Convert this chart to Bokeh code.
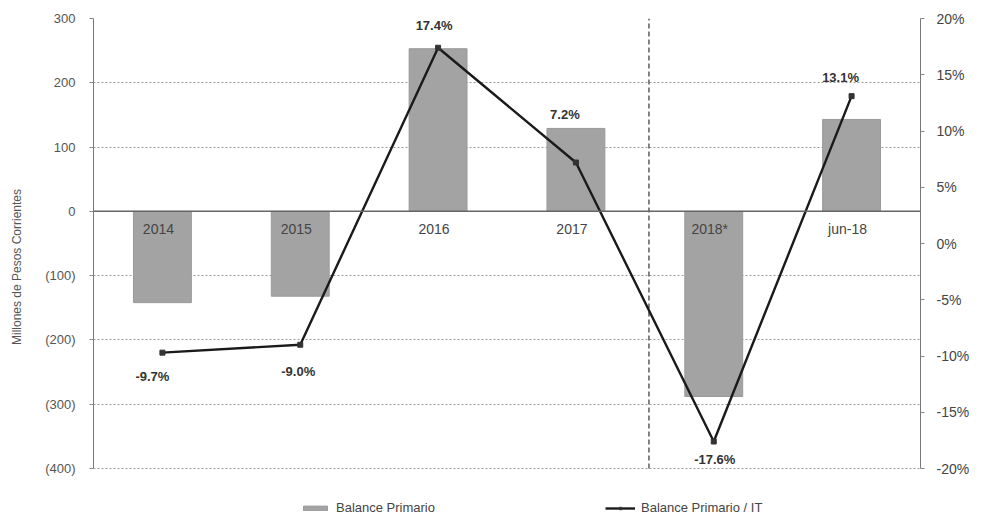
from bokeh.plotting import figure
from bokeh.models import (FactorRange, Range1d, LinearAxis, FixedTicker, Span,
                          ColumnDataSource, Legend, LegendItem, LabelSet)
from bokeh.core.properties import value
from bokeh.embed import file_html
from bokeh.resources import INLINE

categories = ["2014", "2015", "2016", "2017", "2018*", "jun-18"]
balance = [-142, -132, 253, 129, -288, 143]
ratio_pct = [-9.7, -9.0, 17.4, 7.2, -17.6, 13.1]
ratio_labels = ["-9.7%", "-9.0%", "17.4%", "7.2%", "-17.6%", "13.1%"]
left_ticks = [300, 200, 100, 0, -100, -200, -300, -400]
left_tick_labels = ["300", "200", "100", "0", "(100)", "(200)", "(300)", "(400)"]
right_ticks = [20, 15, 10, 5, 0, -5, -10, -15, -20]
right_tick_labels = ["20%", "15%", "10%", "5%", "0%", "-5%", "-10%", "-15%", "-20%"]
separator_after = "2017"

# styling offsets for the value labels (screen px, +y is up for LabelSet)
label_dx = [-10, -2, -4, -11, 1, -11]
label_dy = [-24, -27, 22, 48, -18, 19]

FONT = "Liberation Sans Narrow, Liberation Sans, Arial Narrow, sans-serif"

AXIS_PX = 450      # pixel height of the axis span
EXTRA_PX = 47      # room below the axes for the legend (inside the frame)
l_lo, l_hi = min(left_ticks), max(left_ticks)
r_lo, r_hi = min(right_ticks), max(right_ticks)
l_start = l_lo - (l_hi - l_lo) * EXTRA_PX / AXIS_PX
r_start = r_lo - (r_hi - r_lo) * EXTRA_PX / AXIS_PX

p = figure(frame_width=827, frame_height=AXIS_PX + EXTRA_PX,
           x_range=FactorRange(*categories, range_padding=0),
           y_range=Range1d(l_start, l_hi), output_backend="svg", toolbar_location=None,
           min_border_left=93, min_border_right=53, min_border_top=18, min_border_bottom=2)
p.outline_line_color = None
p.extra_y_ranges = {"pct": Range1d(r_start, r_hi)}

p.xaxis.visible = False
p.xgrid.visible = False

p.yaxis.bounds = (l_lo, l_hi)
p.yaxis.ticker = FixedTicker(ticks=left_ticks)
p.yaxis.major_label_overrides = {t: l for t, l in zip(left_ticks, left_tick_labels)}
p.yaxis.axis_label = "Millones de Pesos Corrientes"
p.yaxis.axis_label_text_font = FONT
p.yaxis.axis_label_text_font_style = "normal"
p.yaxis.axis_label_text_font_size = "12px"
p.yaxis.axis_label_text_color = "#555555"
p.yaxis.axis_label_standoff = 18
p.yaxis.major_label_text_font = FONT
p.yaxis.major_label_text_font_size = "13px"
p.yaxis.major_label_text_color = "#555555"
p.yaxis.axis_line_color = "#777777"
p.yaxis.major_tick_line_color = "#888888"
p.yaxis.major_tick_out = 4
p.yaxis.major_tick_in = 0
p.yaxis.minor_tick_line_color = None
p.yaxis.major_label_standoff = 14

ra = LinearAxis(y_range_name="pct", ticker=FixedTicker(ticks=right_ticks),
                bounds=(r_lo, r_hi))
ra.major_label_overrides = {t: l for t, l in zip(right_ticks, right_tick_labels)}
ra.major_label_text_font = FONT
ra.major_label_text_font_size = "14px"
ra.major_label_text_color = "#444444"
ra.axis_line_color = "#777777"
ra.major_tick_line_color = "#888888"
ra.major_tick_out = 4
ra.major_tick_in = 0
ra.minor_tick_line_color = None
ra.major_label_standoff = 12
p.add_layout(ra, "right")

p.ygrid.ticker = FixedTicker(ticks=left_ticks)
p.ygrid.grid_line_color = "#9a9a9a"
p.ygrid.grid_line_dash = "2 2"
p.ygrid.grid_line_width = 1

src = ColumnDataSource(dict(cat=categories, bal=balance, pct=ratio_pct, lab=ratio_labels,
                            dx=label_dx, dy=label_dy, zero=[0] * len(categories)))

bars = p.vbar(x="cat", top="bal", width=0.42, source=src, fill_color="#a3a3a3",
              line_color="#9a9a9a")

p.add_layout(Span(location=0, dimension="width", line_color="#666666", line_width=1.5))

# vertical dashed separator between 2017 and 2018*
sep_x = categories.index(separator_after) + 1.03
p.segment(x0=[sep_x], x1=[sep_x], y0=[l_lo], y1=[l_hi], line_color="#333333",
          line_dash="5 3", line_width=1.2)

line = p.line(x="cat", y="pct", source=src, y_range_name="pct", line_color="#1a1a1a",
              line_width=2.4)
pts = p.scatter(x="cat", y="pct", source=src, y_range_name="pct", marker="square",
                size=5, fill_color="#333333", line_color="#333333")

p.text(x="cat", y="zero", text="cat", source=src, x_offset=-4, y_offset=18,
       text_align="center", text_baseline="middle", text_font=value(FONT),
       text_font_size="14px", text_color="#444444")

labels = LabelSet(x="cat", y="pct", text="lab", source=src, y_range_name="pct",
                  x_offset="dx", y_offset="dy", text_align="center", text_baseline="middle",
                  text_font=value(FONT), text_font_size="13px", text_font_style="bold",
                  text_color="#333333")
p.add_layout(labels)

legend = Legend(items=[LegendItem(label="Balance Primario", renderers=[bars]),
                       LegendItem(label="Balance Primario / IT", renderers=[line, pts])],
                location=(207, 0), orientation="horizontal", spacing=170,
                glyph_width=30, glyph_height=6, label_standoff=6, padding=0, margin=0,
                border_line_color=None, background_fill_alpha=0,
                label_text_font=FONT, label_text_font_size="13px",
                label_text_color="#444444")
p.add_layout(legend, "center")

open("out.html", "w").write(file_html(p, INLINE))
